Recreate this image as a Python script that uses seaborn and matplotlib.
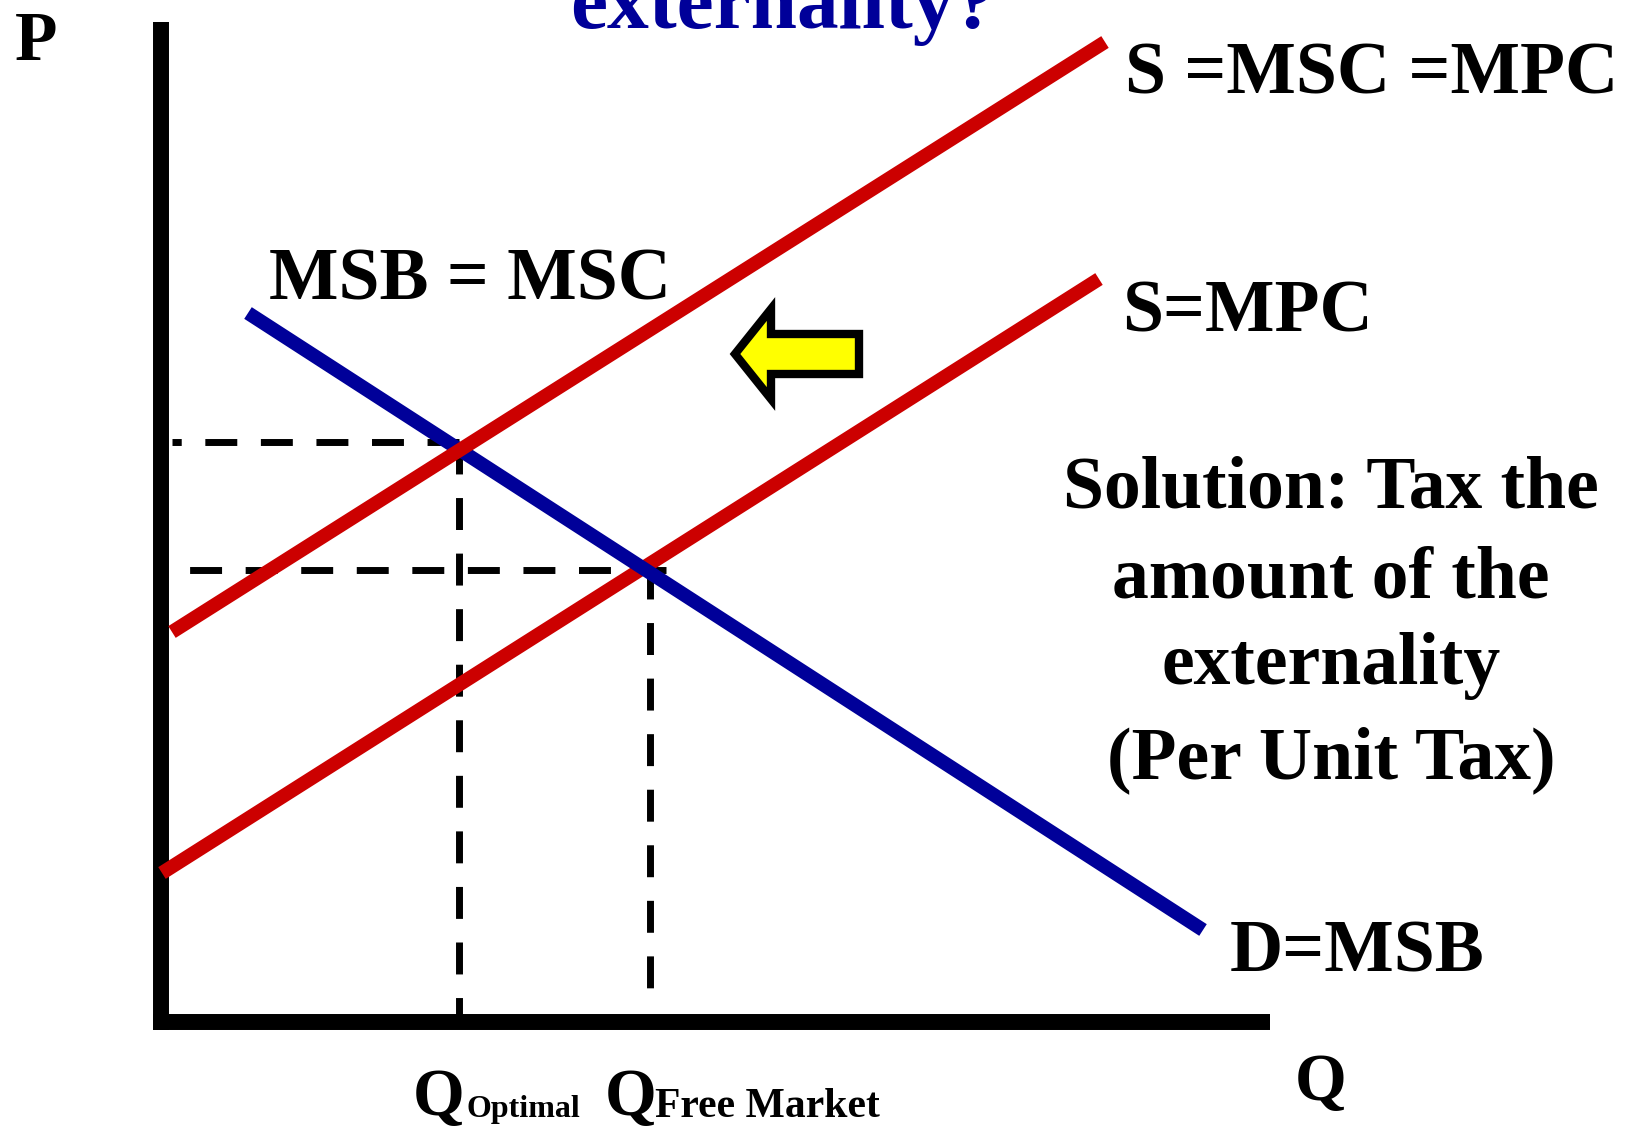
import matplotlib
matplotlib.use('Agg')
import matplotlib.pyplot as plt
import seaborn as sns

# Curves (Q, P) in chart units, origin at the axis corner
q_msc = [0.11, 9.44]
p_msc = [3.90, 9.80]
q_mpc = [0.01, 9.38]
p_mpc = [1.49, 7.43]
q_msb = [0.87, 10.42]
p_msb = [7.09, 0.92]

# Equilibria and guide lines
q_opt, p_opt = 2.98, 5.80
q_free, p_free = 4.89, 4.52
opt_h_end = 0.11
free_h_start, free_h_end = 5.05, 0.25
free_v_end = 0.29

# Axis extents
q_axis = [-0.08, 11.09]
p_axis = [10.00, -0.08]

# Shift arrow (tail Q, tip Q, P)
arrow_tail, arrow_tip, arrow_p = 6.98, 5.74, 6.68

red = '#CC0000'
blue = '#000099'

sns.set_theme(style='white')
plt.rcParams['font.family'] = ['Liberation Serif', 'DejaVu Serif']
plt.rcParams['font.weight'] = 'bold'
plt.rcParams['text.color'] = 'black'

fig = plt.figure(figsize=(16.37, 11.30), dpi=100)
ax = fig.add_axes([0, 0, 1, 1])
ax.set_xlim(-1.61, 14.76)
ax.set_ylim(-1.08, 10.22)
ax.axis('off')

# axes
sns.lineplot(x=[0, 0], y=p_axis, ax=ax, color='black', linewidth=11.5,
             estimator=None, sort=False, solid_capstyle='butt')
sns.lineplot(x=q_axis, y=[0, 0], ax=ax, color='black', linewidth=11.5,
             estimator=None, sort=False, solid_capstyle='butt')

# dashed guides
dash = (0, (4.6, 3.4))
guides = [
    ([q_opt, opt_h_end], [p_opt, p_opt]),
    ([q_opt, q_opt], [p_opt, 0]),
    ([free_h_start, free_h_end], [p_free, p_free]),
    ([q_free, q_free], [p_free + 0.03, free_v_end]),
]
for gx, gy in guides:
    sns.lineplot(x=gx, y=gy, ax=ax, color='black', linewidth=5,
                 linestyle=dash, estimator=None, sort=False)

# curves
sns.lineplot(x=q_mpc, y=p_mpc, ax=ax, color=red, linewidth=10,
             estimator=None, sort=False, solid_capstyle='butt')
sns.lineplot(x=q_msb, y=p_msb, ax=ax, color=blue, linewidth=10,
             estimator=None, sort=False, solid_capstyle='butt')
sns.lineplot(x=q_msc, y=p_msc, ax=ax, color=red, linewidth=10,
             estimator=None, sort=False, solid_capstyle='butt')

# arrow
ax.arrow(arrow_tail, arrow_p, arrow_tip - arrow_tail, 0, width=0.40,
         head_width=0.90, head_length=0.36, length_includes_head=True,
         fc='#FFFF00', ec='black', lw=6, joinstyle='miter', zorder=5)

# labels
ax.text(6.22, 9.94, 'externality?', color=blue, fontsize=60, ha='center', va='baseline')
ax.text(-1.46, 9.62, 'P', fontsize=50, ha='left', va='baseline')
ax.text(9.64, 9.28, 'S =MSC =MPC', fontsize=53, ha='left', va='baseline')
ax.text(9.61, 6.90, 'S=MPC', fontsize=53, ha='left', va='baseline')
ax.text(1.08, 7.22, 'MSB = MSC', fontsize=53, ha='left', va='baseline')
ax.text(10.69, 0.51, 'D=MSB', fontsize=53, ha='left', va='baseline')

solution_lines = ['Solution: Tax the', 'amount of the', 'externality', '(Per Unit Tax)']
solution_base = [5.14, 4.25, 3.38, 2.44]
for line, base in zip(solution_lines, solution_base):
    ax.text(11.70, base, line, fontsize=53, ha='center', va='baseline')

ax.text(11.34, -0.78, 'Q', fontsize=48, ha='left', va='baseline')
ax.text(2.52, -0.93, 'Q', fontsize=48, ha='left', va='baseline')
ax.text(3.05, -0.95, 'Optimal', fontsize=23, ha='left', va='baseline')
ax.text(4.44, -0.93, 'Q', fontsize=48, ha='left', va='baseline')
ax.text(4.94, -0.95, 'Free Market', fontsize=30, ha='left', va='baseline')

fig.savefig('out.png', dpi=100, facecolor='white')
